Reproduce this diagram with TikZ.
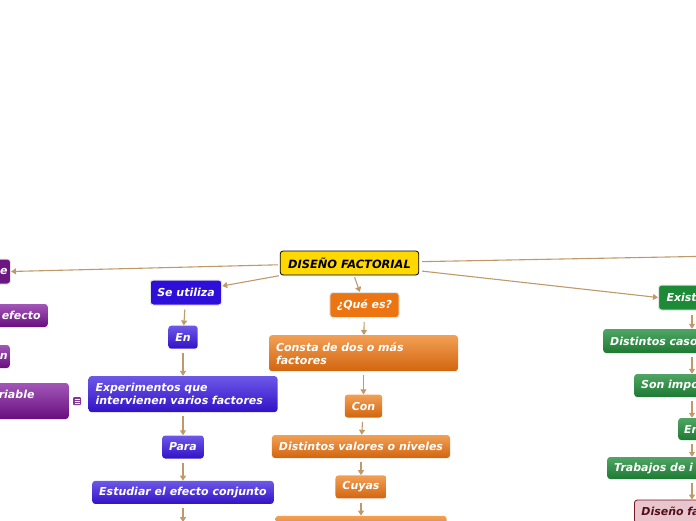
\documentclass[tikz,border=0pt]{standalone}
\usepackage{fontspec}
\setmainfont{DejaVu Sans}
\usetikzlibrary{arrows.meta,positioning}
\definecolor{linkc}{HTML}{BF996A}
\definecolor{rootc}{HTML}{FFD800}
\definecolor{purpc}{HTML}{6C1682}
\definecolor{purptop}{HTML}{A257B8}
\definecolor{purpbot}{HTML}{680E7E}
\definecolor{bluec}{HTML}{2E0FD9}
\definecolor{bluetop}{HTML}{6D58E8}
\definecolor{bluebot}{HTML}{3212C6}
\definecolor{orangec}{HTML}{EC7512}
\definecolor{orangetop}{HTML}{F2A055}
\definecolor{orangebot}{HTML}{D2650F}
\definecolor{greenc}{HTML}{1D8A37}
\definecolor{greentop}{HTML}{50A564}
\definecolor{greenbot}{HTML}{1E7A33}
\definecolor{pinkc}{HTML}{E9C6CD}
\definecolor{pinkline}{HTML}{7A1525}
\tikzset{
    topic/.style = {
        rounded corners=3pt,
        font=\fontsize{11}{13}\selectfont\bfseries\itshape,
        text=white,
        inner xsep=7pt,
        minimum height=23pt,
        },
    root/.style = {
        topic,
        draw=black,
        line width=0.8pt,
        fill=rootc,
        text=black,
        font=\fontsize{11.4}{13}\selectfont\bfseries\itshape,
        inner xsep=8pt,
        minimum height=24pt,
        },
    first/.style = {
        draw=white!80!gray,
        line width=1pt,
        minimum height=25pt,
        },
    purple grad/.style = {
        top color=purptop,
        bottom color=purpbot,
        },
    blue grad/.style = {
        top color=bluetop,
        bottom color=bluebot,
        },
    orange grad/.style = {
        top color=orangetop,
        bottom color=orangebot,
        },
    green grad/.style = {
        top color=greentop,
        bottom color=greenbot,
        },
    link/.style = {
        draw=linkc,
        line width=1.1pt,
        shorten <=4pt,
        -{Triangle[length=5pt,width=6pt]},
        },
    link line/.style = {
        draw=linkc,
        line width=1.1pt,
        shorten <=3pt,
        },
    notebox/.style = {
        fill=purpc!85,
        rounded corners=1pt,
        minimum size=8pt,
        inner sep=0pt,
        },
}
\begin{document}
\begin{tikzpicture}[x=1pt,y=-1pt]
    \useasboundingbox (0,0) rectangle (696,520);
    \clip (0,0) rectangle (696,520);

    \node[root] (root) at (349.5,263) {DISEÑO FACTORIAL};

    % left branch
    \node[topic, first, fill=purpc, anchor=east, text width=50pt, align=right, inner xsep=3pt] (pe) at (11,271.5) {e};
    \node[topic, purple grad, anchor=east, text width=60pt, align=right] (pefecto) at (48,315.5) {efecto};
    \node[topic, purple grad, anchor=east, text width=40pt, align=right, inner xsep=2pt] (pn) at (10,356.5) {n};
    \node[topic, purple grad, anchor=east, text width=63pt, align=left, minimum height=36pt] (priable) at (69,401) {riable\\\mbox{}};
    \node[notebox] (note) at (77,401) {};
    \foreach \dy in {-2,0,2}
        \draw[white, line width=0.6pt] ([xshift=-2.5pt,yshift=\dy pt]note.center) -- ++(5,0);

    % se utiliza
    \node[topic, first, fill=bluec] (util) at (186,292.5) {Se utiliza};
    \node[topic, blue grad, below=20pt of util, xshift=-3pt] (en) {En};
    \node[topic, blue grad, below=27pt of en, text width=175pt, align=left, minimum height=36pt] (exper) {Experimentos que\\intervienen varios factores};
    \node[topic, blue grad, below=23pt of exper] (para) {Para};
    \node[topic, blue grad, below=22pt of para] (estud) {Estudiar el efecto conjunto};
    \coordinate (bnext) at ([yshift=-18pt]estud.south);

    % que es
    \node[topic, first, fill=orangec] (que) at (364.5,305) {¿Qué es?};
    \node[topic, orange grad, below=17pt of que, xshift=-1pt, text width=175pt, align=left, minimum height=36pt] (consta) {Consta de dos o más\\factores};
    \node[topic, orange grad, below=23pt of consta] (con) {Con};
    \node[topic, orange grad, below=17pt of con, xshift=-2.5pt] (valores) {Distintos valores o niveles};
    \node[topic, orange grad, below=17pt of valores] (cuyas) {Cuyas};
    \node[topic, orange grad, below=17pt of cuyas, minimum width=171pt] (onext) {};

    % existen
    \coordinate (gcol) at (692,0);
    \coordinate (rightend) at (720,256);
    \node[topic, first, fill=greenc, anchor=west, text width=80pt, align=left, inner xsep=8pt] (exist) at (658,297.5) {Exist};
    \node[topic, green grad, anchor=west, text width=120pt, align=left, minimum height=24pt] (casos) at (603,341) {Distintos caso};
    \node[topic, green grad, anchor=west, text width=100pt, align=left] (impo) at (634,385.5) {Son impo};
    \node[topic, green grad, anchor=west, text width=60pt, align=left, minimum height=22pt, inner xsep=6pt] (engreen) at (678,429) {En};
    \node[topic, green grad, anchor=west, text width=120pt, align=left, minimum height=22pt] (trab) at (607,468) {Trabajos de i};
    \node[topic, draw=pinkline, line width=0.8pt, fill=pinkc, text=pinkline!70!black, anchor=west, text width=100pt, align=left] (disfac) at (634,511.5) {Diseño fa};

    \path (root) edge[link, shorten <=2pt] (pe.east);
    \path (root) edge[link, shorten <=2pt] (util);
    \path (root) edge[link, shorten <=2pt] (que);
    \path (root) edge[link, shorten <=3pt] (exist.west);
    \path (root) edge[link line] (rightend);

    \path (util) edge[link] (en);
    \path (en) edge[link] (exper);
    \path (exper) edge[link] (para);
    \path (para) edge[link] (estud);
    \path (estud) edge[link] (bnext);

    \path (que) edge[link] (consta);
    \path (consta) edge[link] (con);
    \path (con) edge[link] (valores);
    \path (valores) edge[link] (cuyas);
    \path (cuyas) edge[link] (onext);

    \path (exist.south -| gcol) edge[link] (casos.north -| gcol);
    \path (casos.south -| gcol) edge[link] (impo.north -| gcol);
    \path (impo.south -| gcol) edge[link] (engreen.north -| gcol);
    \path (engreen.south -| gcol) edge[link] (trab.north -| gcol);
    \path (trab.south -| gcol) edge[link] (disfac.north -| gcol);
\end{tikzpicture}
\end{document}
